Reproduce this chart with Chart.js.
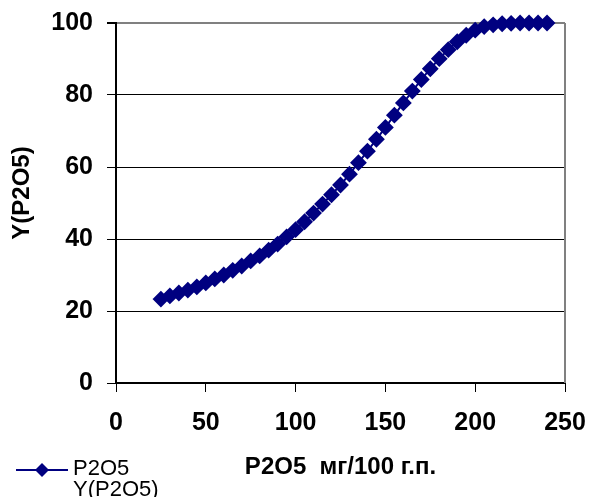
<!DOCTYPE html>
<html>
<head>
<meta charset="utf-8">
<script src="https://cdn.jsdelivr.net/npm/chart.js@4/dist/chart.umd.min.js"></script>
<style>
  body { margin: 0; background: #fff; }
</style>
</head>
<body>
<canvas id="my-chart" width="590" height="497"></canvas>
<script>
// P2O5 content, mg / 100 g of soil
const p2o5 = [25, 30, 35, 40, 45, 50, 55, 60, 65, 70, 75, 80, 85, 90, 95, 100,
  105, 110, 115, 120, 125, 130, 135, 140, 145, 150, 155, 160, 165, 170, 175,
  180, 185, 190, 195, 200, 205, 210, 215, 220, 225, 230, 235, 240];
// Y(P2O5)
const yP2o5 = [23.3, 24.2, 25.0, 25.8, 26.7, 27.8, 28.9, 30.0, 31.3, 32.5, 33.9,
  35.3, 36.9, 38.6, 40.6, 42.6, 44.8, 47.2, 49.7, 52.3, 55.0, 58.0, 61.2, 64.4,
  67.7, 71.0, 74.4, 77.8, 81.1, 84.3, 87.3, 90.1, 92.6, 94.8, 96.6, 98.0, 99.0,
  99.5, 99.8, 99.9, 100, 100, 100, 100];
const xTicks = [0, 50, 100, 150, 200, 250];
const yTicks = [0, 20, 40, 60, 80, 100];

const navy = "#000080";
const fontFamily = "'Liberation Sans', Arial, sans-serif";

// gray frame on the right, y title, legend in the bottom-left corner
const extras = {
  id: "extras",
  afterDraw(chart) {
    const c = chart.ctx;
    const a = chart.chartArea;
    c.save();
    c.strokeStyle = "#808080";
    c.lineWidth = 2;
    c.beginPath();
    c.moveTo(a.right, a.top);
    c.lineTo(a.right, a.bottom);
    c.stroke();

    // y axis title
    c.save();
    c.translate(22, 193);
    c.rotate(-Math.PI / 2);
    c.fillStyle = "#000";
    c.font = "bold 24px " + fontFamily;
    c.textAlign = "center";
    c.textBaseline = "middle";
    c.fillText("Y(P2O5)", 0, 0);
    c.restore();

    // legend
    c.strokeStyle = navy;
    c.lineWidth = 2;
    c.beginPath();
    c.moveTo(16, 470);
    c.lineTo(68, 470);
    c.stroke();
    c.fillStyle = navy;
    c.beginPath();
    c.moveTo(42, 463);
    c.lineTo(49, 470);
    c.lineTo(42, 477);
    c.lineTo(35, 470);
    c.closePath();
    c.fill();
    c.fillStyle = "#000";
    c.font = "22px " + fontFamily;
    c.textBaseline = "middle";
    c.textAlign = "left";
    c.fillText("P2O5", 73, 469);
    c.fillText("Y(P2O5)", 73, 490);
    c.restore();
  }
};

const ctx = document.getElementById("my-chart").getContext("2d");

const myChart = new Chart(ctx, {
  type: "scatter",
  data: {
    datasets: [{
      label: "P2O5",
      data: p2o5.map((x, i) => ({ x: x, y: yP2o5[i] })),
      showLine: true,
      borderColor: navy,
      backgroundColor: navy,
      borderWidth: 2,
      pointStyle: "rectRot",
      pointRadius: 7,
      pointHoverRadius: 7,
      clip: false
    }]
  },
  options: {
    responsive: false,
    animation: false,
    layout: { padding: { top: 23, right: 25, left: 0, bottom: 0 } },
    plugins: {
      legend: { display: false },
      tooltip: { enabled: false }
    },
    scales: {
      x: {
        type: "linear",
        min: 0,
        max: 250,
        afterBuildTicks: s => { s.ticks = xTicks.map(v => ({ value: v })); },
        afterFit: s => { s.height = 114; s.paddingLeft = 0; s.paddingRight = 0; },
        border: { color: "#000", width: 2 },
        grid: { drawOnChartArea: false, drawTicks: true, tickLength: 9, color: "#000" },
        ticks: {
          color: "#000",
          padding: 16,
          font: { family: fontFamily, size: 25, weight: "bold" }
        },
        title: {
          display: true,
          text: "P2O5  мг/100 г.п.",
          color: "#000",
          padding: { top: 0, bottom: 15 },
          font: { family: fontFamily, size: 24, weight: "bold" }
        }
      },
      y: {
        min: 0,
        max: 100,
        afterBuildTicks: s => { s.ticks = yTicks.map(v => ({ value: v })); },
        afterFit: s => { s.width = 116; s.paddingTop = 0; s.paddingBottom = 0; },
        border: { color: "#000", width: 2 },
        grid: {
          color: c => (c.tick && c.tick.value === 100 ? "#808080" : "#000"),
          lineWidth: c => (c.tick && c.tick.value === 100 ? 2 : 1),
          tickColor: "#000",
          tickLength: 9
        },
        ticks: {
          color: "#000",
          padding: 14,
          font: { family: fontFamily, size: 25, weight: "bold" }
        },
        title: { display: false }
      }
    }
  },
  plugins: [extras]
});
</script>
</body>
</html>
